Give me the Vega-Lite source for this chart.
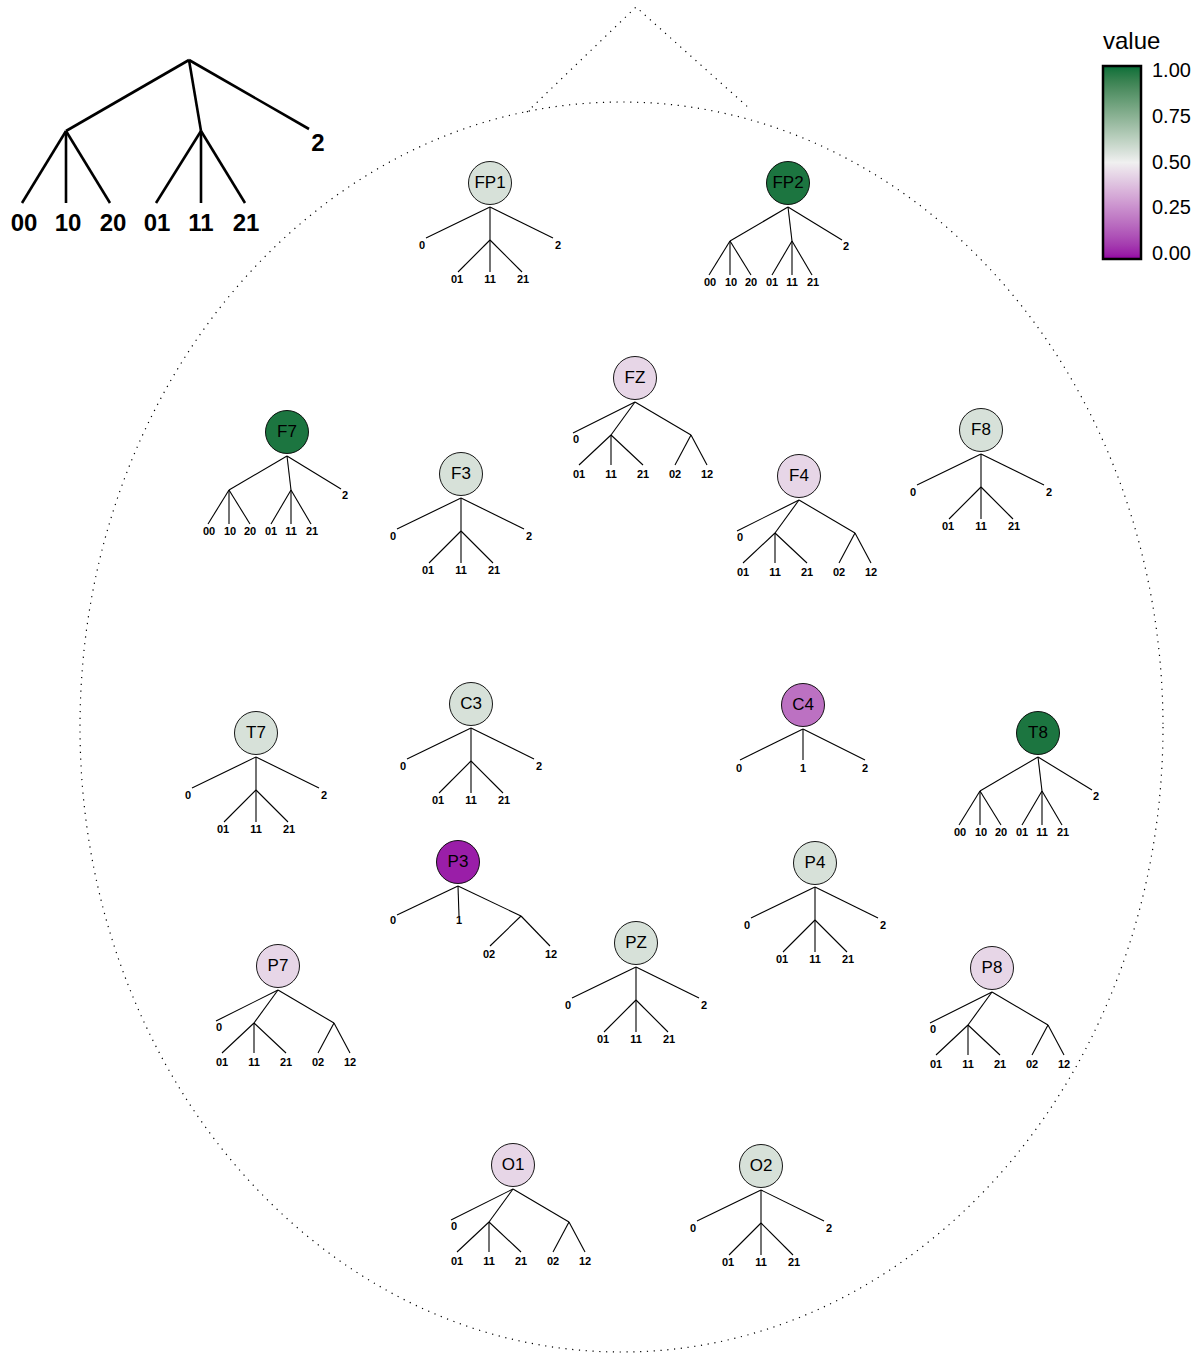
{
  "$schema": "https://vega.github.io/schema/vega-lite/v6.json",
  "width": 1202,
  "height": 1355,
  "autosize": {"type": "none"},
  "padding": 0,
  "background": "white",
  "config": {"view": {"stroke": null}, "font": "Liberation Sans"},
  "datasets": {
    "head": [{"x": 621.5, "y": 727}],
    "nose": [{"o": 0, "x": 527, "y": 112}, {"o": 1, "x": 636, "y": 7}, {"o": 2, "x": 750, "y": 109}],
    "keyEdges": [
      {"x": 189, "y": 60, "x2": 66, "y2": 131},
      {"x": 189, "y": 60, "x2": 201, "y2": 131},
      {"x": 189, "y": 60, "x2": 309, "y2": 129},
      {"x": 66, "y": 131, "x2": 22, "y2": 203},
      {"x": 66, "y": 131, "x2": 66, "y2": 203},
      {"x": 66, "y": 131, "x2": 110, "y2": 203},
      {"x": 201, "y": 131, "x2": 156, "y2": 203},
      {"x": 201, "y": 131, "x2": 201, "y2": 203},
      {"x": 201, "y": 131, "x2": 245, "y2": 203}
    ],
    "keyLabels": [
      {"t": "00", "x": 24, "y": 224}, {"t": "10", "x": 68, "y": 224}, {"t": "20", "x": 113, "y": 224},
      {"t": "01", "x": 157, "y": 224}, {"t": "11", "x": 201, "y": 224}, {"t": "21", "x": 246, "y": 224},
      {"t": "2", "x": 318, "y": 144}
    ],
    "electrodes": [
      {"name": "FP1", "x": 490, "y": 183, "value": 0.56},
      {"name": "FP2", "x": 788, "y": 183, "value": 1.0},
      {"name": "FZ", "x": 635, "y": 378, "value": 0.435},
      {"name": "F7", "x": 287, "y": 432, "value": 1.0},
      {"name": "F3", "x": 461, "y": 474, "value": 0.56},
      {"name": "F4", "x": 799, "y": 476, "value": 0.435},
      {"name": "F8", "x": 981, "y": 430, "value": 0.56},
      {"name": "T7", "x": 256, "y": 733, "value": 0.56},
      {"name": "C3", "x": 471, "y": 704, "value": 0.56},
      {"name": "C4", "x": 803, "y": 705, "value": 0.175},
      {"name": "T8", "x": 1038, "y": 733, "value": 1.0},
      {"name": "P3", "x": 458, "y": 862, "value": 0.0},
      {"name": "P4", "x": 815, "y": 863, "value": 0.56},
      {"name": "P7", "x": 278, "y": 966, "value": 0.435},
      {"name": "PZ", "x": 636, "y": 943, "value": 0.56},
      {"name": "P8", "x": 992, "y": 968, "value": 0.435},
      {"name": "O1", "x": 513, "y": 1165, "value": 0.435},
      {"name": "O2", "x": 761, "y": 1166, "value": 0.56}
    ],
    "edges": [
      {"x": 490, "y": 207, "x2": 426, "y2": 238}, {"x": 490, "y": 207, "x2": 553, "y2": 238}, {"x": 490, "y": 207, "x2": 490, "y2": 240},
      {"x": 490, "y": 240, "x2": 458, "y2": 272}, {"x": 490, "y": 240, "x2": 490, "y2": 272}, {"x": 490, "y": 240, "x2": 522, "y2": 272},

      {"x": 461, "y": 498, "x2": 397, "y2": 529}, {"x": 461, "y": 498, "x2": 524, "y2": 529}, {"x": 461, "y": 498, "x2": 461, "y2": 531},
      {"x": 461, "y": 531, "x2": 429, "y2": 563}, {"x": 461, "y": 531, "x2": 461, "y2": 563}, {"x": 461, "y": 531, "x2": 493, "y2": 563},

      {"x": 981, "y": 454, "x2": 917, "y2": 485}, {"x": 981, "y": 454, "x2": 1044, "y2": 485}, {"x": 981, "y": 454, "x2": 981, "y2": 487},
      {"x": 981, "y": 487, "x2": 949, "y2": 519}, {"x": 981, "y": 487, "x2": 981, "y2": 519}, {"x": 981, "y": 487, "x2": 1013, "y2": 519},

      {"x": 256, "y": 757, "x2": 192, "y2": 788}, {"x": 256, "y": 757, "x2": 319, "y2": 788}, {"x": 256, "y": 757, "x2": 256, "y2": 790},
      {"x": 256, "y": 790, "x2": 224, "y2": 822}, {"x": 256, "y": 790, "x2": 256, "y2": 822}, {"x": 256, "y": 790, "x2": 288, "y2": 822},

      {"x": 471, "y": 728, "x2": 407, "y2": 759}, {"x": 471, "y": 728, "x2": 534, "y2": 759}, {"x": 471, "y": 728, "x2": 471, "y2": 761},
      {"x": 471, "y": 761, "x2": 439, "y2": 793}, {"x": 471, "y": 761, "x2": 471, "y2": 793}, {"x": 471, "y": 761, "x2": 503, "y2": 793},

      {"x": 815, "y": 887, "x2": 751, "y2": 918}, {"x": 815, "y": 887, "x2": 878, "y2": 918}, {"x": 815, "y": 887, "x2": 815, "y2": 920},
      {"x": 815, "y": 920, "x2": 783, "y2": 952}, {"x": 815, "y": 920, "x2": 815, "y2": 952}, {"x": 815, "y": 920, "x2": 847, "y2": 952},

      {"x": 636, "y": 967, "x2": 572, "y2": 998}, {"x": 636, "y": 967, "x2": 699, "y2": 998}, {"x": 636, "y": 967, "x2": 636, "y2": 1000},
      {"x": 636, "y": 1000, "x2": 604, "y2": 1032}, {"x": 636, "y": 1000, "x2": 636, "y2": 1032}, {"x": 636, "y": 1000, "x2": 668, "y2": 1032},

      {"x": 761, "y": 1190, "x2": 697, "y2": 1221}, {"x": 761, "y": 1190, "x2": 824, "y2": 1221}, {"x": 761, "y": 1190, "x2": 761, "y2": 1223},
      {"x": 761, "y": 1223, "x2": 729, "y2": 1255}, {"x": 761, "y": 1223, "x2": 761, "y2": 1255}, {"x": 761, "y": 1223, "x2": 793, "y2": 1255},

      {"x": 788, "y": 207, "x2": 730, "y2": 241}, {"x": 788, "y": 207, "x2": 792, "y2": 241}, {"x": 788, "y": 207, "x2": 842, "y2": 240},
      {"x": 730, "y": 241, "x2": 709, "y2": 275}, {"x": 730, "y": 241, "x2": 730, "y2": 275}, {"x": 730, "y": 241, "x2": 751, "y2": 275},
      {"x": 792, "y": 241, "x2": 772, "y2": 275}, {"x": 792, "y": 241, "x2": 792, "y2": 275}, {"x": 792, "y": 241, "x2": 812, "y2": 275},

      {"x": 287, "y": 456, "x2": 229, "y2": 490}, {"x": 287, "y": 456, "x2": 291, "y2": 490}, {"x": 287, "y": 456, "x2": 341, "y2": 489},
      {"x": 229, "y": 490, "x2": 208, "y2": 524}, {"x": 229, "y": 490, "x2": 229, "y2": 524}, {"x": 229, "y": 490, "x2": 250, "y2": 524},
      {"x": 291, "y": 490, "x2": 271, "y2": 524}, {"x": 291, "y": 490, "x2": 291, "y2": 524}, {"x": 291, "y": 490, "x2": 311, "y2": 524},

      {"x": 1038, "y": 757, "x2": 980, "y2": 791}, {"x": 1038, "y": 757, "x2": 1042, "y2": 791}, {"x": 1038, "y": 757, "x2": 1092, "y2": 790},
      {"x": 980, "y": 791, "x2": 959, "y2": 825}, {"x": 980, "y": 791, "x2": 980, "y2": 825}, {"x": 980, "y": 791, "x2": 1001, "y2": 825},
      {"x": 1042, "y": 791, "x2": 1022, "y2": 825}, {"x": 1042, "y": 791, "x2": 1042, "y2": 825}, {"x": 1042, "y": 791, "x2": 1062, "y2": 825},

      {"x": 635, "y": 402, "x2": 573, "y2": 433}, {"x": 635, "y": 402, "x2": 611, "y2": 435}, {"x": 635, "y": 402, "x2": 691, "y2": 435},
      {"x": 611, "y": 435, "x2": 579, "y2": 465}, {"x": 611, "y": 435, "x2": 611, "y2": 465}, {"x": 611, "y": 435, "x2": 643, "y2": 465},
      {"x": 691, "y": 435, "x2": 675, "y2": 465}, {"x": 691, "y": 435, "x2": 707, "y2": 465},

      {"x": 799, "y": 500, "x2": 737, "y2": 531}, {"x": 799, "y": 500, "x2": 775, "y2": 533}, {"x": 799, "y": 500, "x2": 855, "y2": 533},
      {"x": 775, "y": 533, "x2": 743, "y2": 563}, {"x": 775, "y": 533, "x2": 775, "y2": 563}, {"x": 775, "y": 533, "x2": 807, "y2": 563},
      {"x": 855, "y": 533, "x2": 839, "y2": 563}, {"x": 855, "y": 533, "x2": 871, "y2": 563},

      {"x": 278, "y": 990, "x2": 216, "y2": 1021}, {"x": 278, "y": 990, "x2": 254, "y2": 1023}, {"x": 278, "y": 990, "x2": 334, "y2": 1023},
      {"x": 254, "y": 1023, "x2": 222, "y2": 1053}, {"x": 254, "y": 1023, "x2": 254, "y2": 1053}, {"x": 254, "y": 1023, "x2": 286, "y2": 1053},
      {"x": 334, "y": 1023, "x2": 318, "y2": 1053}, {"x": 334, "y": 1023, "x2": 350, "y2": 1053},

      {"x": 992, "y": 992, "x2": 930, "y2": 1023}, {"x": 992, "y": 992, "x2": 968, "y2": 1025}, {"x": 992, "y": 992, "x2": 1048, "y2": 1025},
      {"x": 968, "y": 1025, "x2": 936, "y2": 1055}, {"x": 968, "y": 1025, "x2": 968, "y2": 1055}, {"x": 968, "y": 1025, "x2": 1000, "y2": 1055},
      {"x": 1048, "y": 1025, "x2": 1032, "y2": 1055}, {"x": 1048, "y": 1025, "x2": 1064, "y2": 1055},

      {"x": 513, "y": 1189, "x2": 451, "y2": 1220}, {"x": 513, "y": 1189, "x2": 489, "y2": 1222}, {"x": 513, "y": 1189, "x2": 569, "y2": 1222},
      {"x": 489, "y": 1222, "x2": 457, "y2": 1252}, {"x": 489, "y": 1222, "x2": 489, "y2": 1252}, {"x": 489, "y": 1222, "x2": 521, "y2": 1252},
      {"x": 569, "y": 1222, "x2": 553, "y2": 1252}, {"x": 569, "y": 1222, "x2": 585, "y2": 1252},

      {"x": 803, "y": 729, "x2": 740, "y2": 760}, {"x": 803, "y": 729, "x2": 803, "y2": 760}, {"x": 803, "y": 729, "x2": 865, "y2": 760},

      {"x": 458, "y": 886, "x2": 397, "y2": 915}, {"x": 458, "y": 886, "x2": 459, "y2": 916}, {"x": 458, "y": 886, "x2": 521, "y2": 916},
      {"x": 521, "y": 916, "x2": 490, "y2": 946}, {"x": 521, "y": 916, "x2": 550, "y2": 946}
    ],
    "leafLabels": [
      {"t": "0", "x": 422, "y": 246}, {"t": "2", "x": 558, "y": 246}, {"t": "01", "x": 457, "y": 280}, {"t": "11", "x": 490, "y": 280}, {"t": "21", "x": 523, "y": 280},
      {"t": "0", "x": 393, "y": 537}, {"t": "2", "x": 529, "y": 537}, {"t": "01", "x": 428, "y": 571}, {"t": "11", "x": 461, "y": 571}, {"t": "21", "x": 494, "y": 571},
      {"t": "0", "x": 913, "y": 493}, {"t": "2", "x": 1049, "y": 493}, {"t": "01", "x": 948, "y": 527}, {"t": "11", "x": 981, "y": 527}, {"t": "21", "x": 1014, "y": 527},
      {"t": "0", "x": 188, "y": 796}, {"t": "2", "x": 324, "y": 796}, {"t": "01", "x": 223, "y": 830}, {"t": "11", "x": 256, "y": 830}, {"t": "21", "x": 289, "y": 830},
      {"t": "0", "x": 403, "y": 767}, {"t": "2", "x": 539, "y": 767}, {"t": "01", "x": 438, "y": 801}, {"t": "11", "x": 471, "y": 801}, {"t": "21", "x": 504, "y": 801},
      {"t": "0", "x": 747, "y": 926}, {"t": "2", "x": 883, "y": 926}, {"t": "01", "x": 782, "y": 960}, {"t": "11", "x": 815, "y": 960}, {"t": "21", "x": 848, "y": 960},
      {"t": "0", "x": 568, "y": 1006}, {"t": "2", "x": 704, "y": 1006}, {"t": "01", "x": 603, "y": 1040}, {"t": "11", "x": 636, "y": 1040}, {"t": "21", "x": 669, "y": 1040},
      {"t": "0", "x": 693, "y": 1229}, {"t": "2", "x": 829, "y": 1229}, {"t": "01", "x": 728, "y": 1263}, {"t": "11", "x": 761, "y": 1263}, {"t": "21", "x": 794, "y": 1263},

      {"t": "00", "x": 710, "y": 283}, {"t": "10", "x": 731, "y": 283}, {"t": "20", "x": 751, "y": 283}, {"t": "01", "x": 772, "y": 283}, {"t": "11", "x": 792, "y": 283}, {"t": "21", "x": 813, "y": 283}, {"t": "2", "x": 846, "y": 247},
      {"t": "00", "x": 209, "y": 532}, {"t": "10", "x": 230, "y": 532}, {"t": "20", "x": 250, "y": 532}, {"t": "01", "x": 271, "y": 532}, {"t": "11", "x": 291, "y": 532}, {"t": "21", "x": 312, "y": 532}, {"t": "2", "x": 345, "y": 496},
      {"t": "00", "x": 960, "y": 833}, {"t": "10", "x": 981, "y": 833}, {"t": "20", "x": 1001, "y": 833}, {"t": "01", "x": 1022, "y": 833}, {"t": "11", "x": 1042, "y": 833}, {"t": "21", "x": 1063, "y": 833}, {"t": "2", "x": 1096, "y": 797},

      {"t": "0", "x": 576, "y": 440}, {"t": "01", "x": 579, "y": 475}, {"t": "11", "x": 611, "y": 475}, {"t": "21", "x": 643, "y": 475}, {"t": "02", "x": 675, "y": 475}, {"t": "12", "x": 707, "y": 475},
      {"t": "0", "x": 740, "y": 538}, {"t": "01", "x": 743, "y": 573}, {"t": "11", "x": 775, "y": 573}, {"t": "21", "x": 807, "y": 573}, {"t": "02", "x": 839, "y": 573}, {"t": "12", "x": 871, "y": 573},
      {"t": "0", "x": 219, "y": 1028}, {"t": "01", "x": 222, "y": 1063}, {"t": "11", "x": 254, "y": 1063}, {"t": "21", "x": 286, "y": 1063}, {"t": "02", "x": 318, "y": 1063}, {"t": "12", "x": 350, "y": 1063},
      {"t": "0", "x": 933, "y": 1030}, {"t": "01", "x": 936, "y": 1065}, {"t": "11", "x": 968, "y": 1065}, {"t": "21", "x": 1000, "y": 1065}, {"t": "02", "x": 1032, "y": 1065}, {"t": "12", "x": 1064, "y": 1065},
      {"t": "0", "x": 454, "y": 1227}, {"t": "01", "x": 457, "y": 1262}, {"t": "11", "x": 489, "y": 1262}, {"t": "21", "x": 521, "y": 1262}, {"t": "02", "x": 553, "y": 1262}, {"t": "12", "x": 585, "y": 1262},

      {"t": "0", "x": 739, "y": 769}, {"t": "1", "x": 803, "y": 769}, {"t": "2", "x": 865, "y": 769},

      {"t": "0", "x": 393, "y": 921}, {"t": "1", "x": 459, "y": 921}, {"t": "02", "x": 489, "y": 955}, {"t": "12", "x": 551, "y": 955}
    ]
  },
  "encoding": {
    "x": {"field": "x", "type": "quantitative", "scale": {"domain": [0, 1202], "nice": false, "zero": false}, "axis": null},
    "y": {"field": "y", "type": "quantitative", "scale": {"domain": [0, 1355], "reverse": true, "nice": false, "zero": false}, "axis": null}
  },
  "layer": [
    {
      "data": {"name": "head"},
      "mark": {
        "type": "point",
        "shape": "M 0.8664 0 C 0.8664 0.5523 0.4785 1 0 1 C -0.4785 1 -0.8664 0.5523 -0.8664 0 C -0.8664 -0.5523 -0.4785 -1 0 -1 C 0.4785 -1 0.8664 -0.5523 0.8664 0 Z",
        "size": 1562500,
        "filled": false,
        "stroke": "black",
        "strokeWidth": 1.2,
        "strokeDash": [1.2, 5.6],
        "opacity": 1
      }
    },
    {
      "data": {"name": "nose"},
      "mark": {"type": "line", "stroke": "black", "strokeWidth": 1.2, "strokeDash": [1.2, 5.6]},
      "encoding": {"order": {"field": "o", "type": "quantitative"}}
    },
    {
      "data": {"name": "keyEdges"},
      "mark": {"type": "rule", "stroke": "black", "strokeWidth": 2.6},
      "encoding": {"x2": {"field": "x2"}, "y2": {"field": "y2"}}
    },
    {
      "data": {"name": "keyLabels"},
      "mark": {"type": "text", "fontSize": 24, "fontWeight": "bold", "font": "Liberation Sans", "baseline": "middle", "align": "center", "color": "black"},
      "encoding": {"text": {"field": "t"}}
    },
    {
      "data": {"name": "edges"},
      "mark": {"type": "rule", "stroke": "black", "strokeWidth": 1.1},
      "encoding": {"x2": {"field": "x2"}, "y2": {"field": "y2"}}
    },
    {
      "data": {"name": "leafLabels"},
      "mark": {"type": "text", "fontSize": 11, "fontWeight": "bold", "font": "Liberation Sans", "baseline": "middle", "align": "center", "color": "black"},
      "encoding": {"text": {"field": "t"}}
    },
    {
      "data": {"name": "electrodes"},
      "mark": {"type": "point", "shape": "circle", "filled": true, "size": 1850, "stroke": "black", "strokeWidth": 0.9, "opacity": 1},
      "encoding": {
        "fill": {
          "field": "value",
          "type": "quantitative",
          "scale": {"domain": [-0.026, 0.5, 1.026], "range": ["#9400a4", "#f0f0f0", "#026f38"], "interpolate": "lab"},
          "legend": {
            "orient": "none",
            "legendX": 1103,
            "legendY": 30,
            "direction": "vertical",
            "title": "value",
            "titleFont": "Liberation Sans",
            "titleFontSize": 24,
            "titleFontWeight": "normal",
            "titleColor": "black",
            "titlePadding": 12,
            "gradientLength": 193,
            "gradientThickness": 38,
            "gradientStrokeColor": "black",
            "gradientStrokeWidth": 2.5,
            "labelFont": "Liberation Sans",
            "labelFontSize": 20,
            "labelColor": "black",
            "labelOffset": 11,
            "labelBaseline": "middle",
            "labelOverlap": false,
            "values": [0, 0.25, 0.5, 0.75, 1],
            "format": ".2f"
          }
        }
      }
    },
    {
      "data": {"name": "electrodes"},
      "mark": {"type": "text", "fontSize": 17, "font": "Liberation Sans", "baseline": "middle", "align": "center", "color": "black"},
      "encoding": {"text": {"field": "name"}}
    }
  ]
}
